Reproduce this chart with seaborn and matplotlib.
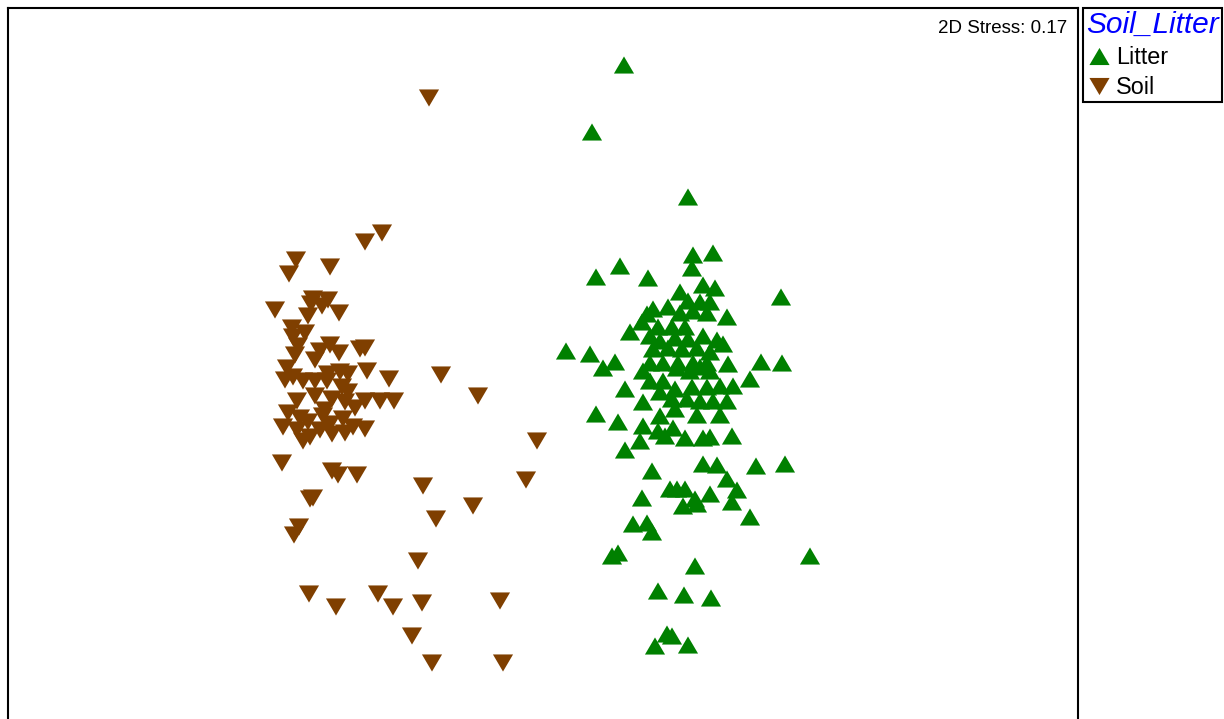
import matplotlib
matplotlib.use("Agg")
import matplotlib.pyplot as plt
from matplotlib.lines import Line2D
import pandas as pd
import seaborn as sns

# NMDS ordination scores (MDS1, MDS2) for each sample
litter_mds1 = [
    0.84, 0.52, 1.48, 1.53, 1.73, 1.52, 0.80, 0.56, 1.08, 2.41, 1.63, 1.75, 1.40, 1.48,
    1.60, 1.70, 1.87, 1.13, 1.07, 1.28, 1.40, 1.53, 1.67, 1.02, 0.90, 1.18, 1.32, 1.45,
    1.63, 1.77, 1.83, 1.10, 1.20, 1.35, 1.48, 1.13, 1.28, 1.42, 1.57, 1.70, 1.10, 1.23,
    1.38, 1.53, 1.67, 1.88, 0.75, 0.63, 0.26, 0.50, 2.21, 2.42, 0.85, 1.03, 1.10, 1.23,
    1.37, 1.50, 1.60, 1.70, 2.10, 1.93, 1.80, 1.67, 1.52, 1.35, 1.20, 1.03, 1.32, 1.47,
    1.60, 1.73, 1.87, 1.35, 1.20, 1.57, 1.80, 0.56, 0.78, 1.03, 1.18, 1.33, 1.25, 1.45,
    1.63, 1.70, 1.92, 1.00, 0.85, 1.63, 1.77, 2.16, 2.45, 1.12, 1.87, 1.30, 1.37, 1.45,
    1.70, 1.97, 1.55, 1.57, 1.43, 1.92, 2.10, 1.02, 0.93, 1.07, 1.12, 0.72, 0.78, 2.70,
    1.55, 1.18, 1.44, 1.71, 1.27, 1.32, 1.15, 1.48,
]
litter_mds2 = [
    3.15, 2.48, 1.83, 1.25, 1.27, 1.12, 1.14, 1.03, 1.02, 0.83, 0.95, 0.92, 0.88, 0.79,
    0.78, 0.78, 0.63, 0.71, 0.66, 0.73, 0.67, 0.69, 0.67, 0.58, 0.48, 0.53, 0.53, 0.53,
    0.44, 0.40, 0.36, 0.44, 0.39, 0.42, 0.41, 0.31, 0.32, 0.31, 0.32, 0.28, 0.17, 0.17,
    0.17, 0.17, 0.17, 0.16, 0.18, 0.12, 0.29, 0.26, 0.18, 0.17, -0.09, 0.09, -0.01, -0.01,
    0.12, 0.09, 0.13, 0.09, 0.01, -0.06, -0.06, -0.07, -0.07, -0.09, -0.12, -0.22, -0.19, -0.19,
    -0.21, -0.21, -0.21, -0.29, -0.36, -0.35, -0.35, -0.34, -0.42, -0.46, -0.51, -0.48, -0.56, -0.58,
    -0.58, -0.57, -0.56, -0.61, -0.70, -0.84, -0.85, -0.86, -0.84, -0.91, -0.99, -1.09, -1.09, -1.09,
    -1.14, -1.10, -1.19, -1.24, -1.26, -1.22, -1.37, -1.18, -1.44, -1.43, -1.52, -1.76, -1.73, -1.76,
    -1.86, -2.11, -2.15, -2.18, -2.54, -2.56, -2.66, -2.65,
]
soil_mds1 = [
    -1.11, -1.58, -1.75, -2.44, -2.51, -2.10, -2.65, -2.27, -2.12, -2.18, -2.32, -2.01, -2.48, -2.47,
    -2.42, -2.45, -2.20, -2.25, -2.01, -1.80, -1.75, -2.53, -2.47, -2.37, -2.12, -2.00, -1.92, -1.73,
    -1.51, -2.25, -2.13, -1.98, -1.92, -2.43, -2.25, -2.08, -1.95, -1.75, -1.60, -1.46, -2.52, -2.40,
    -2.32, -2.17, -2.10, -1.97, -1.87, -1.75, -2.57, -2.37, -2.30, -2.08, -1.95, -0.99, -0.62, -0.03,
    -2.58, -2.08, -2.02, -1.83, -2.27, -2.30, -1.17, -0.14, -0.67, -1.04, -2.41, -2.46, -1.22, -2.31,
    -2.04, -1.62, -1.47, -1.18, -0.40, -1.28, -1.08, -0.37, -2.55, -1.85, -2.15, -2.20, -2.43, -2.29,
    -2.35, -2.10,
]
soil_mds2 = [
    2.82, 1.47, 1.38, 1.20, 1.06, 1.13, 0.70, 0.81, 0.80, 0.74, 0.64, 0.67, 0.52, 0.43,
    0.34, 0.25, 0.29, 0.20, 0.27, 0.31, 0.32, 0.12, 0.03, -0.01, 0.06, 0.08, 0.06, 0.09,
    0.01, -0.01, -0.01, -0.07, -0.12, -0.21, -0.16, -0.19, -0.22, -0.21, -0.21, -0.21, -0.33, -0.38,
    -0.42, -0.36, -0.44, -0.39, -0.47, -0.49, -0.47, -0.61, -0.57, -0.54, -0.53, 0.05, -0.16, -0.61,
    -0.83, -0.91, -0.95, -0.95, -1.18, -1.19, -1.06, -1.00, -1.26, -1.39, -1.47, -1.55, -1.81, -2.14,
    -2.27, -2.14, -2.27, -2.23, -2.21, -2.56, -2.83, -2.83, 0.00, -0.28, -0.30, -0.50, -0.50, 0.76,
    0.47, 0.35,
]
groups = ["Litter", "Soil"]
stress_label = "2D Stress: 0.17"

df = pd.DataFrame({
    "MDS1": litter_mds1 + soil_mds1,
    "MDS2": litter_mds2 + soil_mds2,
    "Soil_Litter": ["Litter"] * len(litter_mds1) + ["Soil"] * len(soil_mds1),
})

sns.set_style("white")
plt.rcParams["font.family"] = ["Liberation Sans", "DejaVu Sans"]
plt.rcParams["text.color"] = "black"

colors = {"Litter": "#008000", "Soil": "#7F3F00"}
tri_up = [(-1, -0.85), (1, -0.85), (0, 0.85)]
tri_down = [(-1, 0.85), (1, 0.85), (0, -0.85)]
shapes = {"Litter": tri_up, "Soil": tri_down}

W, H = 1224, 719
fig = plt.figure(figsize=(W / 100, H / 100), dpi=100)
# plot frame runs past the lower edge of the page
ax = fig.add_axes([8 / W, 1 - 740 / H, 1070 / W, 732 / H])

sns.scatterplot(
    data=df, x="MDS1", y="MDS2", hue="Soil_Litter", style="Soil_Litter",
    hue_order=groups, style_order=groups, palette=colors, markers=shapes,
    s=210, linewidth=0, alpha=1, legend=False, ax=ax,
)
ax.set_xlim(-5.32, 5.38)
ax.set_ylim(-3.60, 3.72)
ax.set_xticks([])
ax.set_yticks([])
ax.set_xlabel("")
ax.set_ylabel("")
for sp in ax.spines.values():
    sp.set_visible(True)
    sp.set_color("black")
    sp.set_linewidth(1.5)

ax.text(0.990, 0.972, stress_label, transform=ax.transAxes, ha="right", va="center",
        fontsize=13.5, color="black")

handles = [
    Line2D([], [], linestyle="none", marker=shapes[g], markersize=14.5,
           markerfacecolor=colors[g], markeredgewidth=0, label=g)
    for g in groups
]
leg = fig.legend(
    handles=handles, title="Soil_Litter", loc="upper left",
    bbox_to_anchor=(1083 / W, 1 - 8 / H), borderaxespad=0,
    fontsize=16.8, title_fontproperties={"size": 21.5, "style": "italic"},
    frameon=True, fancybox=False, framealpha=1, edgecolor="black",
    borderpad=0.13, labelspacing=0.3, handlelength=1.1, handletextpad=0.2,
    alignment="left",
)
leg.get_title().set_color("#0000FF")
for t in leg.get_texts():
    t.set_color("black")
leg.get_frame().set_linewidth(1.5)

fig.savefig("out.png", dpi=100)
